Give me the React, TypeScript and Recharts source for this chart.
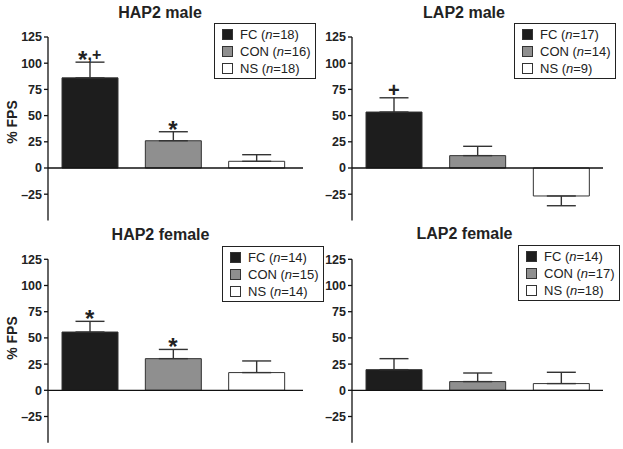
import React from 'react';
import {
  Bar,
  BarChart,
  Cell,
  ErrorBar,
  Legend,
  ReferenceDot,
  ReferenceLine,
  XAxis,
  YAxis,
} from 'recharts';

const FONT = '"Liberation Sans", Arial, Helvetica, sans-serif';

const groups = ['FC', 'CON', 'NS'];
const groupFills = ['#1d1d1d', '#8f8f8f', '#ffffff'];
const yTicks = [-25, 0, 25, 50, 75, 100, 125];

// mean %FPS and SEM
const hap2MaleMean = [86, 26, 6.4];
const hap2MaleErr = [15, 8.6, 6.3];
const hap2MaleN = [18, 16, 18];
const hap2MaleMarks = ['*,+', '*', ''];

const lap2MaleMean = [53.4, 11.8, -26.7];
const lap2MaleErr = [13.6, 8.9, 9.3];
const lap2MaleN = [17, 14, 9];
const lap2MaleMarks = ['+', '', ''];

const hap2FemaleMean = [55.6, 30.2, 16.9];
const hap2FemaleErr = [10.2, 8.8, 11.1];
const hap2FemaleN = [14, 15, 14];
const hap2FemaleMarks = ['*', '*', ''];

const lap2FemaleMean = [19.7, 8.3, 6.4];
const lap2FemaleErr = [10.5, 8.2, 10.8];
const lap2FemaleN = [14, 17, 18];
const lap2FemaleMarks = ['', '', ''];

type PanelProps = {
  title: string;
  means: number[];
  errs: number[];
  ns: number[];
  marks: string[];
  left: number;
  top: number;
  width: number;
  margin: { top: number; right: number; bottom: number; left: number };
  yAxisWidth: number;
  padRight: number;
  legendPos: { left: number; top: number };
};

function LegendBox({ ns }: { ns: number[] }) {
  return (
    <div
      style={{
        border: '1.2px solid #222',
        background: '#fff',
        padding: '2px 4.5px 0.5px 7px',
        fontFamily: FONT,
        fontSize: 13,
        lineHeight: '17px',
        color: '#222',
        whiteSpace: 'nowrap',
      }}
    >
      {groups.map((g, i) => (
        <div key={g} style={{ display: 'flex', alignItems: 'center', height: 17 }}>
          <span
            style={{
              display: 'inline-block',
              flex: 'none',
              width: 9,
              height: 9,
              background: groupFills[i],
              border: '1px solid #333',
              marginRight: 7,
            }}
          />
          <span>
            {g} (<i>n</i>={ns[i]})
          </span>
        </div>
      ))}
    </div>
  );
}

function markShape(mark: string) {
  return (props: any) => {
    const { cx, cy } = props;
    if (mark === '+') {
      return (
        <text x={cx} y={cy - 1} textAnchor="middle" fontSize={20} fontWeight="bold" fill="#222" fontFamily={FONT}>
          +
        </text>
      );
    }
    const parts = mark.split('*');
    return (
      <text x={cx} y={cy + 6} textAnchor="middle" fontWeight="bold" fill="#222" fontFamily={FONT}>
        <tspan fontSize={24}>*</tspan>
        {parts[1] ? (
          <tspan fontSize={16} dy={-8.3}>
            {parts[1]}
          </tspan>
        ) : null}
      </text>
    );
  };
}

function Panel(p: PanelProps) {
  const height = 224;
  const data = groups.map((g, i) => ({
    group: g,
    mean: p.means[i],
    err: p.means[i] >= 0 ? [0, p.errs[i]] : [p.errs[i], 0],
  }));

  return (
    <div style={{ position: 'absolute', left: p.left, top: p.top, width: p.width, height }}>
      <BarChart width={p.width} height={height} data={data} margin={p.margin} barSize={56}>
        <XAxis dataKey="group" hide padding={{ left: 0, right: p.padRight }} />
        <YAxis
          width={p.yAxisWidth}
          domain={[-50, 125]}
          ticks={yTicks}
          interval={0}
          tickSize={4}
          stroke="#111"
          strokeWidth={1.3}
          tick={{ fill: '#222', fontSize: 12.5, fontWeight: 'bold', fontFamily: FONT }}
          tickFormatter={(v: number) => (v < 0 ? '\u2013' + Math.abs(v) : String(v))}
        />
        <ReferenceLine y={0} stroke="#111" strokeWidth={1.3} />
        <Bar dataKey="mean" stroke="#333" strokeWidth={1} isAnimationActive={false}>
          {data.map((d, i) => (
            <Cell key={d.group} fill={groupFills[i]} />
          ))}
          <ErrorBar dataKey="err" direction="y" width={14.5} stroke="#333" strokeWidth={1.4} isAnimationActive={false} />
        </Bar>
        {p.marks.map((m, i) =>
          m ? (
            <ReferenceDot
              key={'m' + i}
              x={groups[i]}
              y={p.means[i] + p.errs[i]}
              r={0}
              shape={markShape(m)}
            />
          ) : null
        )}
        <Legend
          layout="vertical"
          align="center"
          verticalAlign="middle"
          content={() => <LegendBox ns={p.ns} />}
          wrapperStyle={{ left: p.legendPos.left, top: p.legendPos.top, width: 'auto', height: 'auto' }}
        />
      </BarChart>
    </div>
  );
}

function Title({ text, x, y }: { text: string; x: number; y: number }) {
  return (
    <div
      style={{
        position: 'absolute',
        left: x - 100,
        top: y - 9,
        width: 200,
        textAlign: 'center',
        fontFamily: FONT,
        fontWeight: 'bold',
        fontSize: 16,
        lineHeight: '18px',
        color: '#222',
      }}
    >
      {text}
    </div>
  );
}

function YLabel({ y }: { y: number }) {
  return (
    <div
      style={{
        position: 'absolute',
        left: 12,
        top: y,
        transform: 'translate(-50%, -50%) rotate(-90deg)',
        fontFamily: FONT,
        fontWeight: 'bold',
        fontSize: 14,
        color: '#222',
        whiteSpace: 'nowrap',
      }}
    >
      % FPS
    </div>
  );
}

export default function App() {
  const leftCommon = { width: 311, yAxisWidth: 48, padRight: 5 };
  const rightCommon = { width: 313, yAxisWidth: 42, padRight: 0 };
  return (
    <div style={{ position: 'absolute', left: 0, top: 0, width: 623, height: 449, background: '#fff', overflow: 'hidden' }}>
      <Panel
        {...leftCommon}
        title="HAP2 male"
        means={hap2MaleMean}
        errs={hap2MaleErr}
        ns={hap2MaleN}
        marks={hap2MaleMarks}
        left={0}
        top={0}
        margin={{ top: 37, right: 8, bottom: 3.6, left: 0 }}
        legendPos={{ left: 214, top: 23 }}
      />
      <Panel
        {...rightCommon}
        title="LAP2 male"
        means={lap2MaleMean}
        errs={lap2MaleErr}
        ns={lap2MaleN}
        marks={lap2MaleMarks}
        left={310}
        top={0}
        margin={{ top: 37, right: 20, bottom: 3.6, left: 0 }}
        legendPos={{ left: 204, top: 23 }}
      />
      <Panel
        {...leftCommon}
        title="HAP2 female"
        means={hap2FemaleMean}
        errs={hap2FemaleErr}
        ns={hap2FemaleN}
        marks={hap2FemaleMarks}
        left={0}
        top={222}
        margin={{ top: 37.3, right: 8, bottom: 3.3, left: 0 }}
        legendPos={{ left: 222, top: 24 }}
      />
      <Panel
        {...rightCommon}
        title="LAP2 female"
        means={lap2FemaleMean}
        errs={lap2FemaleErr}
        ns={lap2FemaleN}
        marks={lap2FemaleMarks}
        left={310}
        top={222}
        margin={{ top: 37.3, right: 20, bottom: 3.3, left: 0 }}
        legendPos={{ left: 208, top: 23 }}
      />
      <Title text="HAP2 male" x={160} y={12.5} />
      <Title text="LAP2 male" x={464} y={12.5} />
      <Title text="HAP2 female" x={160.5} y={235} />
      <Title text="LAP2 female" x={464.5} y={234} />
      <YLabel y={122} />
      <YLabel y={338} />
    </div>
  );
}
